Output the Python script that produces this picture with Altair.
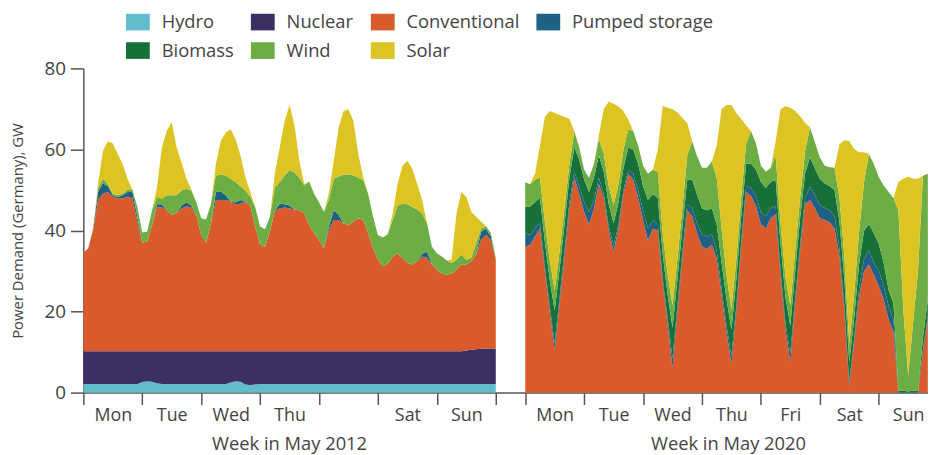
import json
import altair as alt
import pandas as pd

# ---------------- data ----------------
series = ["Hydro", "Nuclear", "Conventional", "Pumped storage", "Biomass", "Wind", "Solar"]
colors = ["#62bccb", "#3b2f63", "#d95b2c", "#1f6185", "#176f3a", "#6cae44", "#dcc425"]

hours_2012 = list(range(0, 169, 2))   # hour of the week, 2-hourly samples
hours_2020 = list(range(0, 165, 2))
offset_2020 = 7.5                      # 2020 week drawn half a day after the 2012 week

hydro_2012 = [2.1] * 12 + [2.6, 2.8, 2.7, 2.3] + [2.1] * 14 + [2.5, 2.8, 2.7, 2.0, 1.9, 2.0] + [2.1] * 49
nuclear_2012 = [8.1] * 12 + [7.6, 7.4, 7.5, 7.9] + [8.1] * 14 + [7.7, 7.4, 7.5, 8.2, 8.3, 8.2] + [8.1] * 42 + \
               [8.3, 8.5, 8.6, 8.7, 8.8, 8.8, 8.8]
conv_2012 = [24.3, 25.4, 29.9, 37.3, 38.9, 39.3, 38.1, 37.7, 37.7, 38.1, 37.7, 32.0,
             26.8, 27.1, 31.1, 35.6, 35.5, 34.8, 33.6, 34.2, 35.2, 35.8, 35.5, 33.6,
             28.7, 26.8, 31.5, 37.3, 37.3, 37.3, 36.9, 36.3, 36.4, 36.9, 36.0, 30.7,
             26.3, 25.8, 29.5, 34.8, 35.2, 35.5, 35.2, 35.0, 34.8, 34.0, 31.1, 29.1,
             27.5, 25.4, 29.9, 32.4, 32.4, 31.6, 31.1, 32.0, 32.8, 32.4, 29.1, 25.4,
             22.6, 21.0, 21.6, 23.4, 24.1, 23.0, 21.8, 21.4, 22.2, 23.4, 23.0, 21.4,
             20.1, 19.2, 18.9, 19.2, 20.1, 21.4, 21.2, 21.8, 23.3, 26.9, 28.0, 26.8,
             21.9]
pumped_2012 = [0, 0, 0.2, 2.0, 2.6, 1.4, 0.4, 0.3, 0.8, 1.2, 1.6, 1.2,
               0, 0, 0, 0.7, 0.8, 0, 0, 0, 0.8, 1.0, 0.5, 0,
               0, 0, 0, 2.0, 2.2, 1.2, 0, 0.5, 0.9, 0, 0, 0,
               0, 0, 0, 0, 1.2, 0.8, 0.8, 0, 0, 0, 0, 0,
               0, 0, 0.8, 2.4, 1.2, 0, 0, 0, 0, 0, 0, 0,
               0, 0, 0, 0, 0, 0, 0, 0, 0, 0.6, 1.6, 0,
               0, 0, 0, 0, 0, 0, 0, 0, 0, 2.0, 1.6, 0.8,
               0]
wind_2012 = [0, 0, 0.2, 1.0, 1.1, 0.6, 0.4, 0.5, 0.4, 0.6, 0.6, 2.4,
             2.5, 2.4, 3.7, 1.8, 1.4, 3.7, 4.9, 4.3, 3.7, 3.3, 3.7, 3.2,
             4.1, 5.7, 4.9, 4.1, 4.1, 4.9, 5.7, 5.0, 3.4, 2.8, 2.1, 4.9,
             4.5, 4.3, 3.7, 5.6, 5.4, 7.1, 8.6, 9.2, 8.0, 6.9, 10.8, 9.8,
             9.3, 9.0, 6.6, 7.8, 9.5, 12.0, 12.5, 11.4, 10.0, 9.8, 9.8, 7.8,
             6.1, 7.1, 7.3, 9.0, 11.9, 13.4, 14.5, 14.2, 12.8, 10.0, 6.9, 4.4,
             4.1, 4.2, 3.5, 2.6, 2.5, 2.4, 1.2, 0.8, 2.9, 0.8, 0.6, 0.8,
             0.4]
solar_2012 = [0, 0, 0, 1.0, 6.9, 10.5, 12.4, 10.2, 7.3, 2.7, 0, 0,
              0, 0, 0, 2.4, 12.6, 15.9, 18.1, 11.8, 6.9, 2.5, 0.2, 0,
              0, 0, 0, 2.8, 8.3, 10.6, 12.2, 10.6, 7.6, 3.3, 1.2, 0,
              0, 0, 0, 3.4, 8.5, 13.4, 16.2, 11.6, 4.2, 0.4, 0, 0,
              0, 0, 1.6, 4.4, 12.1, 15.7, 16.1, 13.4, 5.9, 0.8, 0, 0,
              0, 0, 0, 1.6, 5.3, 9.4, 10.7, 9.4, 6.3, 3.3, 0, 0,
              0, 0, 0, 0.8, 11.4, 15.5, 15.5, 11.4, 6.5, 1.7, 0, 0,
              0]

conv_2020 = [36.0, 36.4, 38.5, 40.5, 30.0, 20.0, 10.5, 22.0, 33.5, 45.5, 53.0, 49.0,
             44.5, 41.5, 45.5, 51.5, 48.0, 40.0, 34.8, 40.5, 49.0, 54.0, 52.5, 48.0,
             42.5, 37.5, 40.5, 40.0, 27.0, 17.0, 6.0, 20.0, 33.0, 45.0, 43.5, 39.3,
             36.0, 35.5, 36.5, 33.0, 24.0, 15.0, 7.0, 20.0, 36.0, 49.5, 48.5, 46.0,
             41.5, 40.5, 43.0, 44.0, 28.7, 15.6, 7.5, 22.2, 35.2, 46.6, 47.5, 45.5,
             43.0, 42.6, 42.0, 40.5, 33.6, 19.7, 1.5, 12.4, 23.8, 29.9, 31.6, 29.1,
             26.3, 23.0, 18.1, 15.0, 0, 0, 0, 0, 0, 10.0, 18.0]
pumped_2020 = [3.3, 2.5, 2.0, 1.5, 1.2, 1.2, 1.7, 1.5, 1.5, 1.5, 1.5, 2.0,
               2.5, 3.0, 2.0, 1.5, 1.0, 1.0, 1.5, 1.0, 1.0, 1.0, 1.5, 2.0,
               2.5, 3.0, 2.0, 1.5, 1.2, 1.2, 2.5, 1.5, 1.5, 1.5, 2.0, 2.5,
               3.0, 3.0, 2.5, 2.0, 1.5, 1.5, 2.0, 1.5, 1.5, 1.5, 2.0, 2.5,
               3.0, 3.0, 2.5, 2.0, 1.5, 1.5, 2.0, 1.5, 1.5, 1.5, 3.3, 3.3,
               3.2, 3.0, 3.0, 3.0, 2.0, 1.5, 1.0, 1.0, 2.0, 3.0, 3.5, 2.9,
               4.0, 3.3, 3.3, 3.0, 0, 0, 0, 0, 0, 0.5, 1.0]
biomass_2020 = [6.5, 7.0, 6.5, 6.0, 6.0, 6.5, 8.0, 7.0, 6.5, 6.0, 6.0, 6.5,
                5.5, 5.0, 5.5, 5.5, 5.5, 5.5, 5.5, 5.5, 5.5, 5.5, 6.0, 6.5,
                6.0, 7.0, 6.5, 6.5, 6.0, 6.0, 7.5, 6.5, 6.0, 6.0, 7.0, 7.0,
                6.5, 6.5, 6.5, 6.5, 6.5, 6.5, 6.5, 6.5, 6.0, 5.5, 6.0, 6.5,
                7.5, 7.0, 6.5, 6.5, 6.5, 6.5, 7.0, 6.5, 6.5, 6.0, 7.3, 6.5,
                6.6, 6.0, 6.0, 6.5, 6.5, 6.5, 5.0, 5.0, 6.0, 7.0, 6.5, 7.3,
                6.5, 5.7, 4.0, 4.0, 0.5, 0.5, 0.3, 0.5, 0.5, 3.0, 4.0]
wind_2020 = [6.1, 5.5, 5.5, 5.0, 5.0, 5.0, 5.0, 4.5, 4.0, 3.5, 4.0, 3.0,
             2.5, 3.5, 3.5, 4.0, 4.5, 4.5, 4.5, 4.5, 4.5, 4.5, 4.5, 4.5,
             5.0, 6.5, 6.0, 6.5, 5.0, 5.0, 5.5, 5.0, 5.0, 6.0, 9.5, 9.5,
             10.0, 10.5, 11.5, 11.5, 8.5, 6.0, 5.0, 5.0, 5.0, 5.0, 8.0, 6.5,
             4.0, 4.0, 3.5, 6.0, 5.0, 5.0, 5.0, 5.0, 5.0, 5.5, 7.3, 6.5,
             5.3, 4.4, 4.6, 5.5, 6.0, 6.0, 4.5, 6.0, 8.0, 12.0, 17.3, 17.1,
             16.4, 19.1, 24.1, 26.0, 44.5, 20.0, 4.0, 16.8, 29.5, 40.0, 31.0]
solar_2020 = [0, 0, 1.5, 8.0, 25.8, 36.8, 43.8, 33.5, 22.5, 11.0, 0, 0,
              0, 0, 0, 1.0, 11.0, 20.8, 25.0, 19.1, 9.4, 2.4, 0, 0,
              0, 0, 0, 5.5, 31.5, 41.1, 48.4, 36.1, 22.3, 8.0, 0, 0,
              0, 0, 0, 8.0, 29.5, 42.0, 50.5, 36.0, 19.0, 4.5, 0, 0,
              0, 0, 0, 3.5, 28.2, 42.1, 48.8, 34.3, 20.0, 7.0, 0, 0,
              0, 0, 0, 0, 13.2, 28.6, 50.1, 35.7, 19.5, 7.4, 0, 0,
              0, 0, 0, 0, 7.0, 32.3, 49.0, 35.5, 22.8, 0, 0]

tick_pos = [0, 1, 2, 3, 4, 5, 6, 7, 7.5, 8.5, 9.5, 10.5, 11.5, 12.5, 13.5]
tick_lab = ["Mon", "Tue", "Wed", "Thu", "", "Sat", "Sun", "",
            "Mon", "Tue", "Wed", "Thu", "Fri", "Sat", "Sun"]
week_titles = ["Week in May 2012", "Week in May 2020"]
week_centers = [3.5, 10.95]

# ---------------- tables ----------------
def table(hours, offset, cols):
    rows = []
    for name, vals in cols.items():
        for h, v in zip(hours, vals):
            rows.append({"t": offset + h / 24, "series": name,
                         "order": series.index(name), "value": v})
    return pd.DataFrame(rows)

df12 = table(hours_2012, 0, {"Hydro": hydro_2012, "Nuclear": nuclear_2012,
                             "Conventional": conv_2012, "Pumped storage": pumped_2012,
                             "Wind": wind_2012, "Solar": solar_2012})
df20 = table(hours_2020, offset_2020, {"Conventional": conv_2020, "Pumped storage": pumped_2020,
                                      "Biomass": biomass_2020, "Wind": wind_2020,
                                      "Solar": solar_2020})
dft = pd.DataFrame({"t": week_centers, "label": week_titles})

# ---------------- chart ----------------
W, H = 852, 327
FONT = "Open Sans"
TXT = "#444444"
AX = "#555555"

x_enc = alt.X("t:Q", title=None,
              scale=alt.Scale(domain=[0, 14.336], nice=False, zero=False),
              axis=alt.Axis(values=tick_pos,
                            labelExpr=f"{json.dumps(tick_lab)}[indexof({json.dumps(tick_pos)}, datum.value)]",
                            labelOffset=29.7, labelFlush=False, labelOverlap=False,
                            tickSize=12, tickWidth=1.5, tickColor=AX,
                            domainColor=AX, domainWidth=1.5, grid=False,
                            labelFont=FONT, labelFontSize=18, labelColor=TXT, labelPadding=2))
y_enc = alt.Y("value:Q", stack="zero",
              scale=alt.Scale(domain=[0, 80], nice=False),
              axis=alt.Axis(values=[0, 20, 40, 60, 80], title="Power Demand (Germany), GW",
                            tickSize=13, tickWidth=1.5, tickColor=AX,
                            domainColor=AX, domainWidth=1.5, grid=False,
                            labelFont=FONT, labelFontSize=19, labelColor=TXT, labelPadding=5,
                            titleFont=FONT, titleFontSize=15, titleFontWeight="normal",
                            titleColor=TXT, titleX=-66, titleY=H / 2, titleAngle=270,
                            titleAlign="center", titleBaseline="middle"))
color_enc = alt.Color("series:N",
                      scale=alt.Scale(domain=series, range=colors),
                      legend=alt.Legend(title=None, orient="none", legendX=43, legendY=-59,
                                        direction="horizontal", columns=4,
                                        symbolType="M-1,-0.7H1V0.7H-1Z", symbolSize=576,
                                        symbolStrokeWidth=0, symbolOpacity=1,
                                        labelFont=FONT, labelFontSize=18.5, labelColor=TXT,
                                        labelOffset=12, labelLimit=400,
                                        columnPadding=17, rowPadding=7, padding=0))
order_enc = alt.Order("order:Q", sort="ascending")

area12 = alt.Chart(df12).mark_area(interpolate="linear").encode(
    x=x_enc, y=y_enc, color=color_enc, order=order_enc)
area20 = alt.Chart(df20).mark_area(interpolate="linear").encode(
    x=x_enc, y=y_enc, color=color_enc, order=order_enc)
titles = alt.Chart(dft).mark_text(font=FONT, fontSize=18.5, color=TXT, baseline="middle",
                                  align="center").encode(
    x=x_enc, y=alt.value(H + 52), text="label:N")

chart = alt.layer(area12, area20, titles).properties(
    width=W, height=H,
    padding={"left": 76, "top": 59, "right": 0, "bottom": 60},
    autosize=alt.AutoSizeParams(type="none"),
).configure_view(stroke=None)

chart.save("out.html", embed_options={"renderer": "svg", "actions": False})
